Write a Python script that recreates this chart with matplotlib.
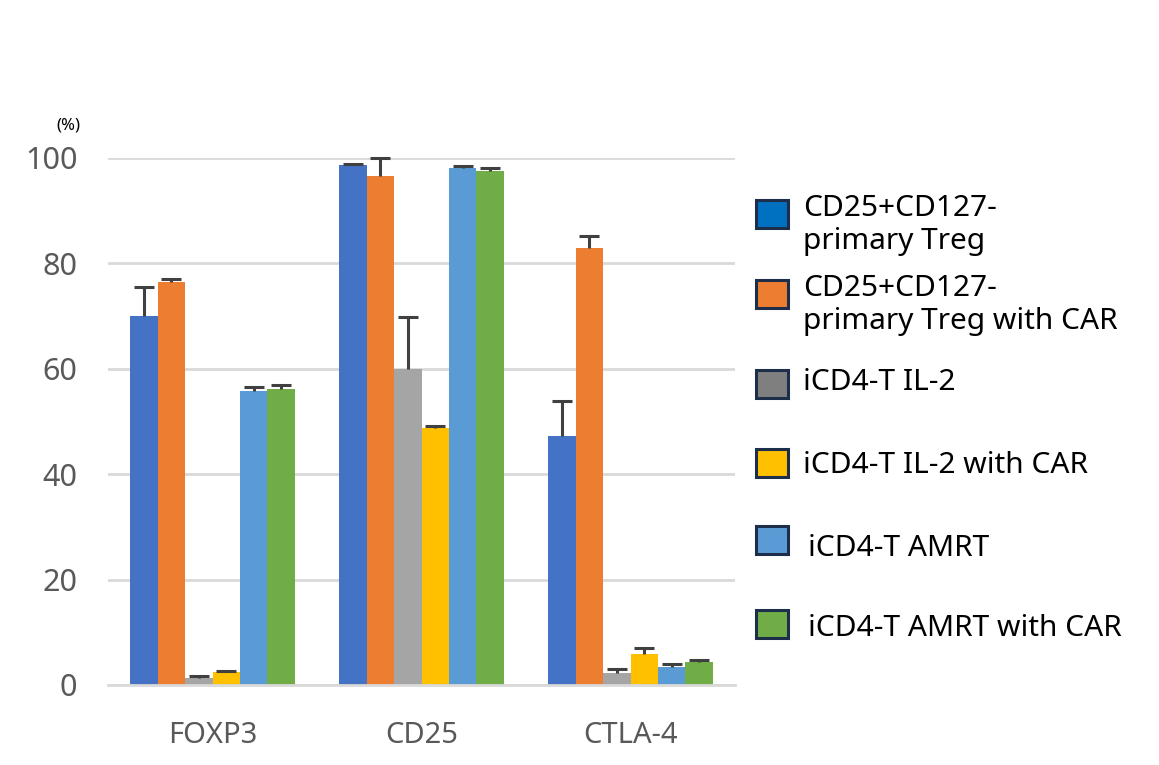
import matplotlib.pyplot as plt
from matplotlib.patches import Rectangle
import numpy as np

plt.rcParams["font.family"] = ["Noto Sans", "DejaVu Sans"]

categories = ["FOXP3", "CD25", "CTLA-4"]
series = [
    "CD25+CD127-\nprimary Treg",
    "CD25+CD127-\nprimary Treg with CAR",
    "iCD4-T IL-2",
    "iCD4-T IL-2 with CAR",
    "iCD4-T AMRT",
    "iCD4-T AMRT with CAR",
]
# mean values per series, one per category
primary_treg = [70.1, 98.6, 47.3]
primary_treg_car = [76.4, 96.5, 83.0]
il2 = [1.4, 59.9, 2.2]
il2_car = [2.4, 48.8, 5.9]
amrt = [55.8, 98.1, 3.5]
amrt_car = [56.2, 97.6, 4.4]
# upper error (SD)
primary_treg_err = [5.5, 0.3, 6.5]
primary_treg_car_err = [0.7, 3.4, 2.1]
il2_err = [0.3, 9.9, 0.9]
il2_car_err = [0.3, 0.3, 1.1]
amrt_err = [0.8, 0.4, 0.4]
amrt_car_err = [0.8, 0.5, 0.4]

values = [primary_treg, primary_treg_car, il2, il2_car, amrt, amrt_car]
errors = [primary_treg_err, primary_treg_car_err, il2_err, il2_car_err, amrt_err, amrt_car_err]
bar_colors = ["#4472c4", "#ed7d31", "#a5a5a5", "#ffc000", "#5b9bd5", "#70ad47"]
legend_colors = ["#0070c0", "#ed7d31", "#7f7f7f", "#ffc000", "#5b9bd5", "#70ad47"]

fig = plt.figure(figsize=(11.59, 7.65), dpi=100)
ax = fig.add_axes([0.0932, 0.1046, 0.5410, 0.6889])

x = np.arange(len(categories))
width = 0.131
for i, (vals, errs) in enumerate(zip(values, errors)):
    pos = x + (i - 2.5) * width
    ax.bar(pos, vals, width=width, color=bar_colors[i], zorder=2)
    eb = ax.errorbar(pos, vals, yerr=[np.zeros(len(errs)), errs], fmt="none",
                     ecolor="#404040", elinewidth=2.2, capsize=7.5, capthick=2.2,
                     zorder=3, clip_on=False)
    # only the upper cap is drawn in the original
    for cap in eb[1]:
        if np.allclose(cap.get_ydata(), vals):
            cap.set_visible(False)

ax.set_xlim(-0.5, 2.5)
ax.set_ylim(0, 100)
ax.set_yticks([0, 20, 40, 60, 80, 100])
ax.set_xticks(x)
ax.set_xticklabels(categories)
ax.yaxis.grid(True, color="#d9d9d9", linewidth=2, zorder=0)
ax.set_axisbelow(True)
for s in ["top", "right", "left"]:
    ax.spines[s].set_visible(False)
ax.spines["bottom"].set_color("#d9d9d9")
ax.spines["bottom"].set_linewidth(2)
ax.tick_params(axis="y", length=0, pad=22, labelsize=22, labelcolor="#595959")
ax.tick_params(axis="x", length=0, pad=26, labelsize=21, labelcolor="#595959")

fig.text(68 / 1159, 1 - 125 / 765, "(%)", fontsize=12, ha="center", va="center")

# legend drawn manually to match the uneven spacing of the original
legend_patch_y = [214, 294, 384, 463, 540, 624]
legend_text_x = [803, 803, 803, 803, 808, 808]
legend_text_y = [225, 305, 382, 466, 548, 629]
W, H = 1159, 765
for i, label in enumerate(series):
    yc = legend_patch_y[i]
    fig.add_artist(Rectangle((756 / W, 1 - (yc + 14) / H), 32 / W, 28 / H,
                             transform=fig.transFigure, facecolor=legend_colors[i],
                             edgecolor="#1c2e4a", linewidth=2.2))
    fig.text(legend_text_x[i] / W, 1 - legend_text_y[i] / H, label, fontsize=21.5,
             ha="left", va="center", color="black", linespacing=1.2)

fig.savefig("out.png", dpi=100)
